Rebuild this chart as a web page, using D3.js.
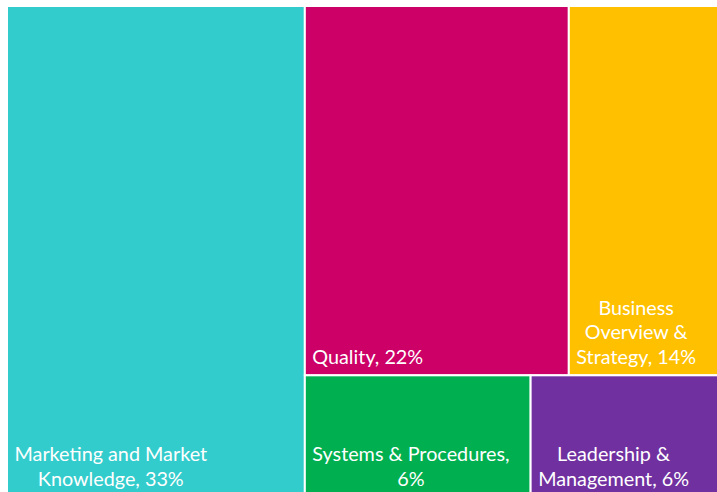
<!DOCTYPE html>
<html>
<head>
<meta charset="utf-8">
<script src="https://cdn.jsdelivr.net/npm/d3@7/dist/d3.min.js"></script>
<style>
  html, body { margin: 0; padding: 0; background: #fff; overflow: hidden; }
  svg { display: block; }
  .label { font-family: Lato, "Open Sans", sans-serif; fill: #fff; }
</style>
</head>
<body>
<div id="chart"></div>
<script>
// topics and their area sizes, shown percentages
const categories = [
    'Marketing and Market Knowledge',
    'Quality',
    'Business Overview & Strategy',
    'Systems & Procedures',
    'Leadership & Management'
];
const sizes = [33, 22, 12.6, 6.2, 5.2];
const shares = [33, 22, 14, 6, 6];
const colors = ['#33CCCC', '#CC0066', '#FFC000', '#00B050', '#7030A0'];

const width = 717, height = 492;
const margin = { top: 6, left: 7 };

const svg = d3.select('#chart').append('svg')
    .attr('width', width)
    .attr('height', height);

const plot = svg.append('g')
    .attr('transform', `translate(${margin.left},${margin.top})`);

const leaves = categories.map((c, i) => ({ name: c, value: sizes[i], share: shares[i], color: colors[i] }));

// excel style arrangement: big one on the left, the rest in two rows
const tree = {
    children: [
        leaves[0],
        { children: [
            { children: [leaves[1], leaves[2]] },
            { children: [leaves[3], leaves[4]] }
        ] }
    ]
};

const root = d3.hierarchy(tree)
    .sum(d => d.children ? 0 : d.value);

d3.treemap()
    .tile(d3.treemapSliceDice)
    .size([713, 491])
    (root);

const cells = plot.selectAll('.cell')
    .data(root.leaves())
    .enter()
    .append('g')
    .attr('class', 'cell');

cells.append('rect')
    .attr('x', d => d.x0)
    .attr('y', d => d.y0)
    .attr('width', d => d.x1 - d.x0)
    .attr('height', d => d.y1 - d.y0)
    .attr('fill', d => d.data.color)
    .attr('stroke', '#fff')
    .attr('stroke-width', 2);

const fontSize = 19.8;
const lineH = 24.5;

cells.each(function(d) {
    const g = d3.select(this);
    const maxW = d.x1 - d.x0 - 14;
    const words = `${d.data.name}, ${d.data.share}%`.split(' ');

    // wrap words to the cell width
    const probe = g.append('text').attr('class', 'label').style('font-size', fontSize + 'px');
    const lines = [];
    let cur = '';
    words.forEach(w => {
        const test = cur ? cur + ' ' + w : w;
        probe.text(test);
        if (probe.node().getComputedTextLength() > maxW && cur) {
            lines.push(cur);
            cur = w;
        } else {
            cur = test;
        }
    });
    lines.push(cur);

    const widths = lines.map(l => { probe.text(l); return probe.node().getComputedTextLength(); });
    probe.remove();

    const blockW = d3.max(widths);
    const cx = d.x0 + 7.5 + blockW / 2;
    const lastY = d.y1 - 11.5;

    const text = g.append('text')
        .attr('class', 'label')
        .attr('text-anchor', 'middle')
        .style('font-size', fontSize + 'px');

    lines.forEach((l, i) => {
        text.append('tspan')
            .attr('x', cx)
            .attr('y', lastY - (lines.length - 1 - i) * lineH)
            .text(l);
    });
});
</script>
</body>
</html>
